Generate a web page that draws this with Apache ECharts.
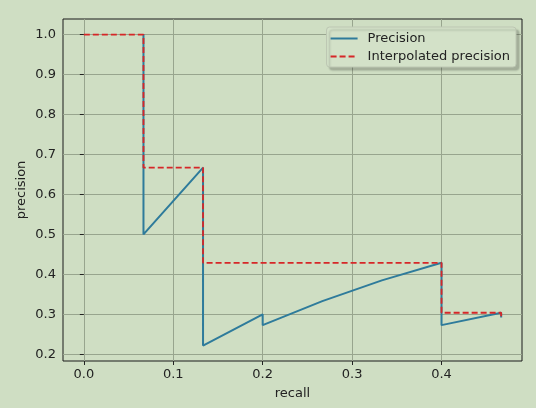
<!DOCTYPE html>
<html><head><meta charset="utf-8">
<script src="https://cdn.jsdelivr.net/npm/echarts@6/dist/echarts.min.js"></script>
<style>html,body{margin:0;padding:0;background:#cfdec3;}#c{width:536px;height:408px;}</style>
</head><body><div id="c"></div>
<script>
const precRecall = [0.0667, 0.0667, 0.1333, 0.1333, 0.2, 0.2, 0.2667, 0.3333, 0.4, 0.4, 0.4667, 0.4667];
const precValues = [1.0, 0.5, 0.667, 0.222, 0.3, 0.273, 0.333, 0.385, 0.429, 0.273, 0.304, 0.292];
const interpRecall = [0, 0.0667, 0.0667, 0.1333, 0.1333, 0.4, 0.4, 0.4667, 0.4667];
const interpValues = [1.0, 1.0, 0.667, 0.667, 0.429, 0.429, 0.304, 0.304, 0.292];
const xTicks = [0.0, 0.1, 0.2, 0.3, 0.4];
const yTicks = [0.2, 0.3, 0.4, 0.5, 0.6, 0.7, 0.8, 0.9, 1.0];

const font = 'DejaVu Sans';
const chart = echarts.init(document.getElementById('c'), null, {renderer: 'canvas'});
chart.setOption({
  backgroundColor: '#cfdec3',
  animation: false,
  grid: {left: 63, right: 14, top: 19, bottom: 47, show: true, borderColor: '#1a1a1a', borderWidth: 1, backgroundColor: 'transparent'},
  legend: {
    top: 27, right: 20, orient: 'vertical', itemGap: 5, itemWidth: 27, itemHeight: 14,
    padding: [5, 6, 4, 3],
    backgroundColor: '#d3e1c8', borderColor: '#bcc6b2', borderWidth: 1, borderRadius: 3,
    shadowBlur: 2, shadowColor: 'rgba(0,0,0,0.2)', shadowOffsetX: 3, shadowOffsetY: 3,
    itemStyle: {opacity: 0},
    textStyle: {fontFamily: font, fontSize: 13, color: '#222', padding: [0, 0, 0, 5]},
    data: ['Precision', 'Interpolated precision']
  },
  xAxis: {
    type: 'value', min: -0.0233, max: 0.49, splitNumber: 5,
    name: 'recall', nameLocation: 'middle', nameGap: 26, nameMoveOverlap: false,
    nameTextStyle: {fontFamily: font, fontSize: 13, color: '#222'},
    axisLine: {show: false},
    axisTick: {show: true, customValues: xTicks, length: 4, lineStyle: {color: '#222'}},
    axisLabel: {customValues: xTicks, fontFamily: font, fontSize: 13, color: '#222', margin: 7, formatter: v => v.toFixed(1)},
    splitLine: {show: true, lineStyle: {color: '#98a58e', width: 1}}
  },
  yAxis: {
    type: 'value', min: 0.1833, max: 1.0389, splitNumber: 8,
    name: 'precision', nameLocation: 'middle', nameGap: 35, nameMoveOverlap: false,
    nameTextStyle: {fontFamily: font, fontSize: 13, color: '#222'},
    axisLine: {show: false},
    axisTick: {show: true, customValues: yTicks, length: 4, lineStyle: {color: '#222'}},
    axisLabel: {customValues: yTicks, fontFamily: font, fontSize: 13, color: '#222', margin: 7, formatter: v => v.toFixed(1)},
    splitLine: {show: true, lineStyle: {color: '#98a58e', width: 1}}
  },
  series: [
    {
      name: 'Precision', type: 'line', symbol: 'none', showSymbol: false,
      data: precRecall.map((r, i) => [r, precValues[i]]),
      lineStyle: {color: '#2e7b9b', width: 2}, itemStyle: {color: '#2e7b9b'}
    },
    {
      name: 'Interpolated precision', type: 'line', symbol: 'none', showSymbol: false,
      data: interpRecall.map((r, i) => [r, interpValues[i]]),
      lineStyle: {color: '#d62728', width: 1.8, type: [6, 3]}, itemStyle: {color: '#d62728'}
    }
  ]
});
</script></body></html>
